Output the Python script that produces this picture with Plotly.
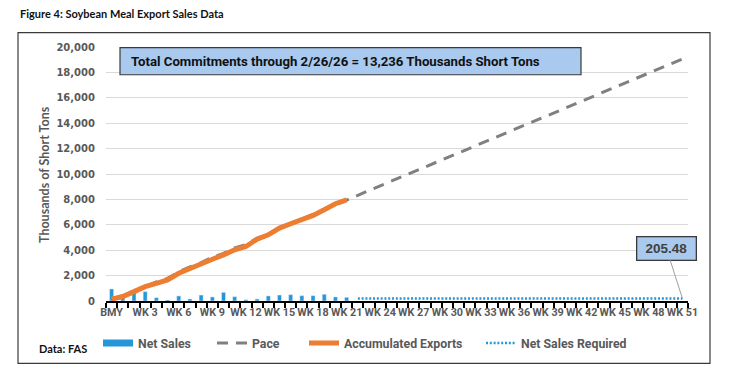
import plotly.graph_objects as go

# ---------------- data ----------------
categories = ["BMY"] + ["WK %d" % i for i in range(1, 52)]
tick_labels = categories[::3]

net_sales = [950, 350, 700, 740, 260, 80, 400, 160, 470, 320, 680, 340,
             100, 160, 400, 470, 500, 420, 420, 530, 320, 290]

accumulated_exports = [150, 350, 740, 1130, 1390, 1660, 2180, 2580, 2970, 3290,
                       3630, 4030, 4290, 4870, 5210, 5740, 6080, 6400, 6740, 7190,
                       7660, 7970]

pace = [150, 420, 780, 1160, 1500, 1780, 2300, 2680, 3020, 3450, 3750, 4180,
        4450, 4950, 5260, 5780, 6100, 6450, 6820, 7230, 7560, 7960,
        8330, 8700, 9070, 9440, 9810, 10180, 10550, 10920, 11290, 11660,
        12030, 12400, 12770, 13140, 13510, 13880, 14250, 14620, 14990, 15360,
        15730, 16100, 16470, 16840, 17210, 17580, 17950, 18320, 18690, 19060]

net_sales_required_value = 205.48
required_start = 22  # WK 22 onward
net_sales_required = [net_sales_required_value] * (len(categories) - required_start)

total_commitments_text = "Total Commitments through 2/26/26 = 13,236 Thousands Short Tons"

# ---------------- layout geometry ----------------
OFF = 8                  # page body margin
W, H = 732 - OFF, 373 - OFF
# plot area in page pixels
L, R = 106, 688
T, B = 47.3, 300.7

def px_x(p):
    return (p - L) / (R - L)

def px_y(p):
    return (B - p) / (B - T)

BLUE = "#2596D6"
ORANGE = "#ED7D31"
GRAY = "#808080"
TXT = "#595959"
NARROW = "Roboto"

xi = list(range(len(categories)))

fig = go.Figure()

fig.add_trace(go.Bar(
    x=xi[:len(net_sales)], y=net_sales, marker_color=BLUE, width=0.36,
    showlegend=False, name="Net Sales"))

fig.add_trace(go.Scatter(
    x=xi, y=pace, mode="lines", name="Pace",
    line=dict(color=GRAY, width=3, dash="11px,8px"), legend="legend2"))

fig.add_trace(go.Scatter(
    x=xi[:len(accumulated_exports)], y=accumulated_exports, mode="lines",
    name="Accumulated Exports", line=dict(color=ORANGE, width=5),
    legend="legend3"))

fig.add_trace(go.Scatter(
    x=xi[required_start:], y=net_sales_required, mode="lines",
    name="Net Sales Required", line=dict(color=BLUE, width=2.5, dash="2px,1.8px"),
    legend="legend4"))

# legend proxy for the bar series (wide flat swatch)
fig.add_trace(go.Scatter(
    x=[None], y=[None], mode="lines", name="Net Sales",
    line=dict(color=BLUE, width=7), legend="legend"))

leg_font = dict(family=NARROW, size=12.3, color=TXT, weight="bold")
leg_y = 1 - 335 / H

def leg(xfig):
    return dict(x=xfig / W, xref="container", y=leg_y, yref="container",
                xanchor="left", yanchor="middle", orientation="h",
                bgcolor="rgba(0,0,0,0)", borderwidth=0, font=leg_font)

fig.update_layout(
    width=W, height=H, autosize=False,
    margin=dict(l=L - OFF, r=W - (R - OFF), t=T - OFF, b=H - (B - OFF)),
    paper_bgcolor="white", plot_bgcolor="white",
    showlegend=True,
    legend=leg(90), legend2=leg(204), legend3=leg(296), legend4=leg(473),
    xaxis=dict(
        range=[-0.5, len(categories) - 0.5],
        tickvals=xi[::3], ticktext=tick_labels, tickangle=0, automargin=False,
        ticks="", showgrid=False, zeroline=False,
        showline=True, linecolor="black", linewidth=2,
        tickfont=dict(family=NARROW, size=10.8, color=TXT, weight="bold"),
        minor=dict(ticks="outside", tick0=-0.5, dtick=1, ticklen=5,
                   tickwidth=1.5, tickcolor="black", showgrid=False),
    ),
    yaxis=dict(
        range=[0, 20000], dtick=2000, tickformat=",d", automargin=False,
        showgrid=True, gridcolor="#D9D9D9", gridwidth=1,
        zeroline=False, showline=False, ticks="",
        ticklabelstandoff=10,
        tickfont=dict(family="DejaVu Sans", size=10, color=TXT, weight="bold"),
    ),
    bargap=0.6,
)

shapes = []
# outer chart border
shapes.append(dict(type="rect", xref="paper", yref="paper",
                   x0=px_x(18), x1=px_x(710), y0=px_y(363), y1=px_y(33),
                   line=dict(color="#3A3A3A", width=1.2), layer="below"))
# commitments box
shapes.append(dict(type="rect", xref="paper", yref="paper",
                   x0=px_x(120), x1=px_x(581), y0=px_y(75), y1=px_y(48),
                   fillcolor="#A9C9EE", line=dict(color="#3A3A3A", width=1.2),
                   layer="above"))
fig.update_layout(shapes=shapes)

annotations = [
    dict(text="Figure 4: Soybean Meal Export Sales Data", xref="paper", yref="paper",
         x=px_x(18), y=px_y(14), xanchor="left", yanchor="middle", showarrow=False,
         font=dict(family="Lato", size=11, color="#111111", weight="bold")),
    dict(text="Data: FAS", xref="paper", yref="paper",
         x=px_x(37), y=px_y(348), xanchor="left", yanchor="middle", showarrow=False,
         font=dict(family="Lato", size=11, color="#111111", weight="bold")),
    dict(text="Thousands of Short Tons", xref="paper", yref="paper",
         x=px_x(44), y=px_y(175), xanchor="center", yanchor="middle",
         textangle=-90, showarrow=False,
         font=dict(family="Lato", size=12.5, color=TXT, weight="bold")),
    dict(text=total_commitments_text, xref="paper", yref="paper",
         x=px_x(129), y=px_y(61.5), xanchor="left", yanchor="middle",
         showarrow=False,
         font=dict(family=NARROW, size=13.2, color="#111111", weight="bold")),
    dict(text="%.2f" % net_sales_required_value, x=xi[-1], y=net_sales_required[-1],
         xref="x", yref="y", showarrow=True, arrowhead=0, arrowwidth=1,
         arrowcolor="#A0A0A0", axref="pixel", ayref="pixel", ax=-16, ay=-50,
         bgcolor="#A9C9EE", bordercolor="#3A3A3A", borderwidth=1.3, borderpad=2,
         width=54, height=18,
         font=dict(family="Liberation Sans", size=13.5, color="#404040", weight="bold")),
]
fig.update_layout(annotations=annotations)

fig.write_html("out.html")
